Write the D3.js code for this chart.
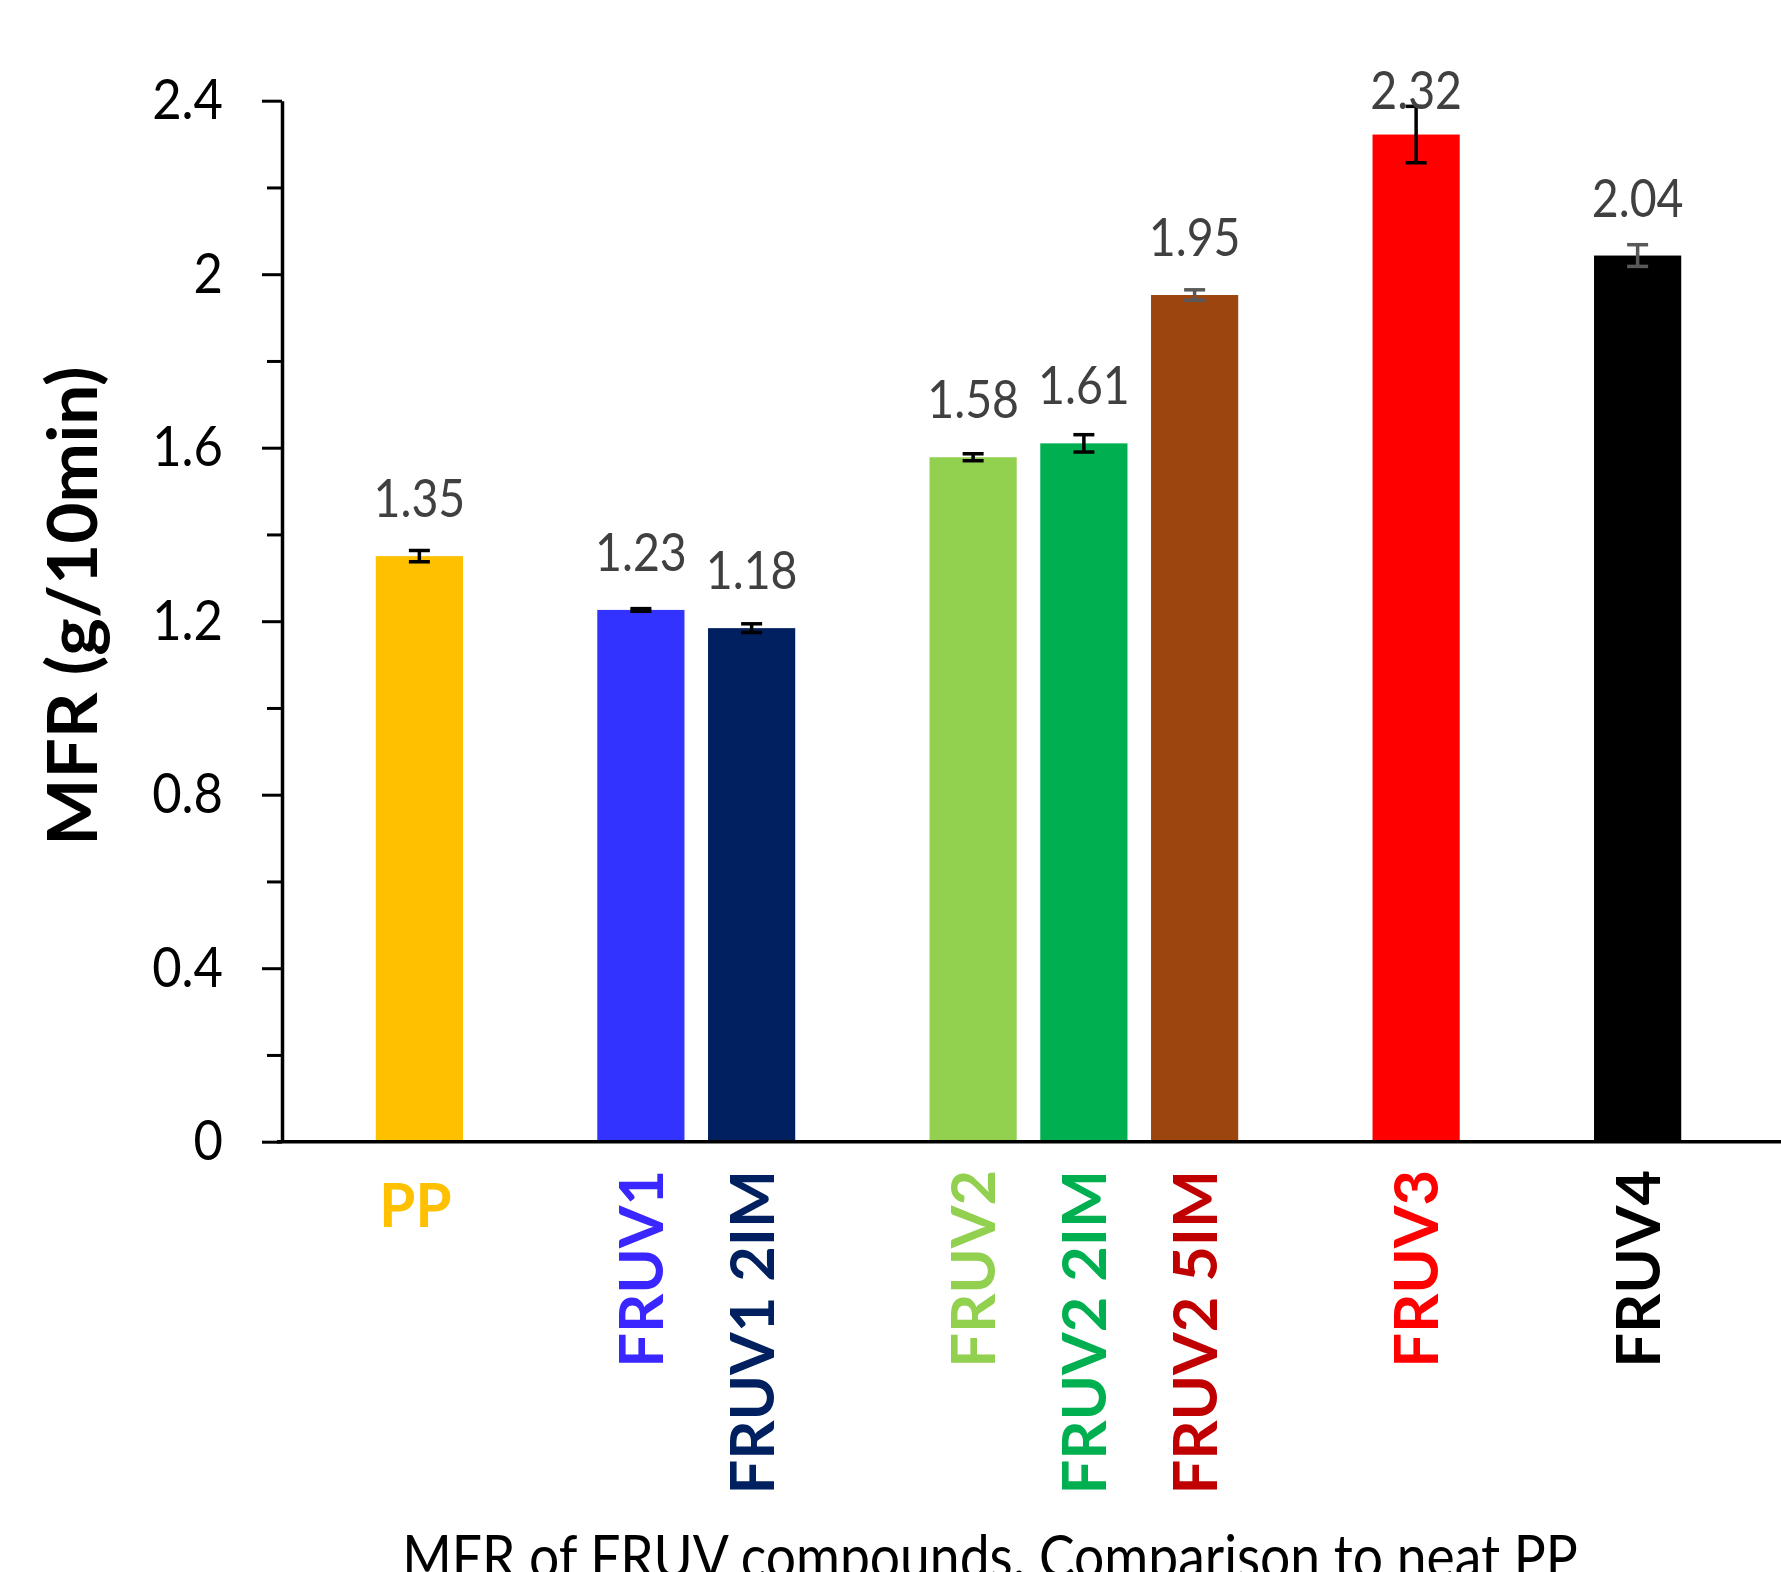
<!DOCTYPE html>
<html>
<head>
<meta charset="utf-8">
<script src="https://cdn.jsdelivr.net/npm/d3@7"></script>
<style>
  html, body { margin: 0; padding: 0; background: #fff; }
  svg { display: block; }
  text { font-family: Lato, "Open Sans", sans-serif; }
</style>
</head>
<body>
<svg id="chart" width="1781" height="1572"></svg>
<script>
// ---- data ----
const categories = ["PP", "FRUV1", "FRUV1 2IM", "FRUV2", "FRUV2 2IM", "FRUV2 5IM", "FRUV3", "FRUV4"];
const groupOf    = [0, 1, 1, 2, 2, 2, 3, 4];
const values     = [1.35, 1.226, 1.184, 1.578, 1.61, 1.952, 2.322, 2.043];
const errors     = [0.013, 0.003, 0.010, 0.008, 0.020, 0.012, 0.065, 0.025];
const valueLabels = ["1.35", "1.23", "1.18", "1.58", "1.61", "1.95", "2.32", "2.04"];
const barColors   = ["#FFC000", "#3333FF", "#002060", "#92D050", "#00B050", "#9C450E", "#FF0000", "#000000"];
const labelColors = ["#FFC000", "#3A26FF", "#002060", "#92D050", "#00B050", "#C00000", "#FF0000", "#000000"];
const errColors   = ["#000000", "#000000", "#000000", "#000000", "#000000", "#595959", "#000000", "#595959"];
const yTickValues = [0, 0.4, 0.8, 1.2, 1.6, 2, 2.4];
const yTickLabels = ["0", "0.4", "0.8", "1.2", "1.6", "2", "2.4"];
const yMinorTicks = [0.2, 0.6, 1.0, 1.4, 1.8, 2.2];
const yTitle = "MFR (g/10min)";
const xTitle = "MFR of FRUV compounds. Comparison to neat PP";

// ---- layout ----
const svg = d3.select("#chart");
svg.append("rect").attr("width", 1781).attr("height", 1572).attr("fill", "#fff");

// slot domain with a blank slot between groups
const slots = [];
categories.forEach((c, i) => {
  if (i > 0 && groupOf[i] !== groupOf[i - 1]) slots.push("__gap" + i);
  slots.push(c);
});

const x = d3.scaleBand().domain(slots).range([364, 1693])
  .paddingInner(0.2127).paddingOuter(0.10635);
const y = d3.scaleLinear().domain([0, 2.4]).range([1141.7, 100.7]);
const axisX = 282;

const data = categories.map((c, i) => ({
  c, v: values[i], e: errors[i], lab: valueLabels[i],
  bc: barColors[i], lc: labelColors[i], ec: errColors[i]
}));

// bars
svg.append("g").selectAll("rect").data(data).join("rect")
  .attr("x", d => x(d.c))
  .attr("width", x.bandwidth())
  .attr("y", d => y(d.v))
  .attr("height", d => y(0) - y(d.v))
  .attr("fill", d => d.bc);

// error bars
const eg = svg.append("g").attr("stroke-width", 3.5).attr("fill", "none");
data.forEach(d => {
  const cx = x(d.c) + x.bandwidth() / 2;
  const g = eg.append("g").attr("stroke", d.ec);
  g.append("line").attr("x1", cx).attr("x2", cx).attr("y1", y(d.v + d.e)).attr("y2", y(d.v - d.e));
  g.append("line").attr("x1", cx - 10.5).attr("x2", cx + 10.5).attr("y1", y(d.v + d.e)).attr("y2", y(d.v + d.e));
  g.append("line").attr("x1", cx - 10.5).attr("x2", cx + 10.5).attr("y1", y(d.v - d.e)).attr("y2", y(d.v - d.e));
});

// value labels
svg.append("g").selectAll("text").data(data).join("text")
  .attr("transform", d => `translate(${x(d.c) + x.bandwidth() / 2},${Math.max(y(d.v) - 39, 109)}) scale(0.9,1)`)
  .attr("text-anchor", "middle")
  .attr("font-size", 51.6)
  .attr("fill", "#404040")
  .text(d => d.lab);

// y axis (major ticks)
const yAxis = d3.axisLeft(y).tickValues(yTickValues).tickSize(20).tickSizeOuter(0).tickFormat("");
const yg = svg.append("g").attr("transform", `translate(${axisX},0)`).call(yAxis);
yg.select(".domain").attr("stroke", "#000").attr("stroke-width", 3.5);
yg.selectAll(".tick line").attr("stroke", "#000").attr("stroke-width", 3);
// minor ticks
const yMinor = d3.axisLeft(y).tickValues(yMinorTicks).tickSize(15).tickSizeOuter(0).tickFormat("");
const ym = svg.append("g").attr("transform", `translate(${axisX},0)`).call(yMinor);
ym.select(".domain").remove();
ym.selectAll(".tick line").attr("stroke", "#000").attr("stroke-width", 3);

// y tick labels
svg.append("g").selectAll("text").data(yTickValues).join("text")
  .attr("transform", (d) => `translate(223,${y(d) + 18.3}) scale(0.89,1)`)
  .attr("text-anchor", "end")
  .attr("font-size", 57)
  .attr("fill", "#000")
  .text((d, i) => yTickLabels[i]);

// x axis line
svg.append("line")
  .attr("x1", axisX - 5).attr("x2", 1781)
  .attr("y1", y(0)).attr("y2", y(0))
  .attr("stroke", "#000").attr("stroke-width", 3.5);

// category labels
const cg = svg.append("g").attr("font-weight", 700);
data.forEach((d, i) => {
  const cx = x(d.c) + x.bandwidth() / 2;
  if (i === 0) {
    cg.append("text")
      .attr("transform", `translate(${cx - 4},1227) scale(0.95,1)`)
      .attr("text-anchor", "middle")
      .attr("font-size", 61.4)
      .attr("fill", d.lc)
      .text(d.c);
  } else {
    cg.append("text")
      .attr("transform", `translate(${cx + 22},1170) rotate(-90) scale(1.0,1)`)
      .attr("text-anchor", "end")
      .attr("font-size", 61.4)
      .attr("fill", d.lc)
      .text(d.c);
  }
});

// axis titles
svg.append("text")
  .attr("transform", "translate(97,606) rotate(-90) scale(1.04,1)")
  .attr("text-anchor", "middle")
  .attr("font-size", 68.4)
  .attr("font-weight", 700)
  .attr("fill", "#000")
  .text(yTitle);

svg.append("text")
  .attr("transform", "translate(990,1578) scale(0.89,1)")
  .attr("text-anchor", "middle")
  .attr("font-size", 60)
  .attr("fill", "#000")
  .text(xTitle);
</script>
</body>
</html>
